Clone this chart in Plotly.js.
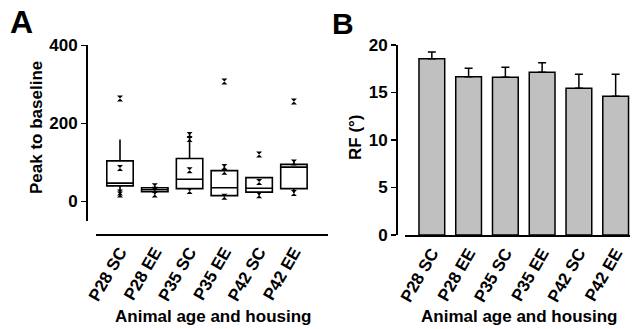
<!DOCTYPE html>
<html>
<head>
<meta charset="utf-8">
<script src="https://cdn.plot.ly/plotly-3.0.1.min.js"></script>
<style>html,body{margin:0;padding:0;background:#fff;}#chart{width:633px;height:329px;}</style>
</head>
<body>
<div id="chart"></div>
<script>
// ---- Data ----
const categories = ['P28 SC', 'P28 EE', 'P35 SC', 'P35 EE', 'P42 SC', 'P42 EE'];

// Panel A: box plot statistics (Peak to baseline)
const boxQ1 = [40, 25, 33, 15, 24, 33];
const boxMedian = [47, 30, 57, 35, 34, 88];
const boxQ3 = [104, 35, 110, 79, 61, 95];
const boxLower = [20, 18, 28, 12, 15, 22];
const boxUpper = [159, 40, 173, 91, 61, 104];

// Panel A: individual points drawn over the boxes
const pointGroups = ['P28 SC', 'P28 SC', 'P28 SC', 'P28 SC',
                     'P28 EE', 'P28 EE', 'P28 EE',
                     'P35 SC', 'P35 SC', 'P35 SC', 'P35 SC',
                     'P35 EE', 'P35 EE', 'P35 EE', 'P35 EE',
                     'P42 SC', 'P42 SC', 'P42 SC',
                     'P42 EE', 'P42 EE', 'P42 EE'];
const pointValues = [264, 86, 23, 18,
                     39, 30, 18,
                     170, 160, 80, 27,
                     307, 88, 76, 12,
                     120, 50, 16,
                     256, 100, 22];

// Panel B: bar chart (RF in degrees), mean and upper error
const rfMean = [18.56, 16.67, 16.6, 17.12, 15.44, 14.6];
const rfErr = [0.7, 0.88, 1.05, 1.02, 1.47, 2.31];

// ---- Layout helpers (pixel -> paper) ----
const W = 633, H = 329;
const px = v => v / W;
const py = v => 1 - v / H;

const fontFam = 'Liberation Sans, Arial, Helvetica, sans-serif';
const boldFont = (size) => ({family: fontFam, size: size, color: '#000', weight: 'bold'});

const traces = [
  {
    type: 'box',
    x: categories,
    q1: boxQ1,
    median: boxMedian,
    q3: boxQ3,
    lowerfence: boxLower,
    upperfence: boxUpper,
    fillcolor: 'rgba(255,255,255,0)',
    line: {color: '#000', width: 1.6},
    width: 0.76,
    whiskerwidth: 0,
    boxpoints: false,
    hoverinfo: 'skip',
    xaxis: 'x', yaxis: 'y'
  },
  {
    type: 'scatter',
    mode: 'markers',
    x: pointGroups,
    y: pointValues,
    marker: {symbol: 'hourglass', size: 6, color: '#000'},
    xaxis: 'x', yaxis: 'y'
  },
  {
    type: 'bar',
    x: categories,
    y: rfMean,
    width: 0.7,
    marker: {color: '#c0c0c0', line: {color: '#000', width: 1.5}},
    error_y: {
      type: 'data', symmetric: false,
      array: rfErr, arrayminus: rfErr.map(() => 0),
      color: '#000', thickness: 1.5, width: 4
    },
    xaxis: 'x2', yaxis: 'y2'
  }
];

const axisCommon = {
  showgrid: false, zeroline: false, showline: true,
  linecolor: '#000', linewidth: 1.5,
  tickfont: boldFont(17), automargin: false, fixedrange: true
};

const layout = {
  width: W, height: H,
  margin: {l: 0, r: 0, t: 0, b: 0},
  paper_bgcolor: '#fff', plot_bgcolor: 'rgba(0,0,0,0)',
  showlegend: false,
  font: boldFont(17),
  xaxis: Object.assign({}, axisCommon, {
    type: 'category', domain: [px(96), px(328)],
    anchor: 'free', position: py(234),
    range: [-0.69, 5.98], ticks: '', tickangle: -60
  }),
  yaxis: Object.assign({}, axisCommon, {
    domain: [py(221), py(45.3)],
    anchor: 'free', position: px(86),
    range: [-50, 400], tickvals: [0, 200, 400],
    ticks: 'outside', ticklen: 5, tickwidth: 1.5, tickcolor: '#000'
  }),
  xaxis2: Object.assign({}, axisCommon, {
    type: 'category', domain: [px(405), px(630)],
    anchor: 'free', position: py(235),
    range: [-0.73, 5.39], ticks: '', tickangle: -60
  }),
  yaxis2: Object.assign({}, axisCommon, {
    domain: [py(235), py(45)],
    anchor: 'free', position: px(396),
    range: [0, 20], tickvals: [0, 5, 10, 15, 20],
    ticks: 'outside', ticklen: 5, tickwidth: 1.5, tickcolor: '#000'
  }),
  annotations: [
    {text: 'A', xref: 'paper', yref: 'paper', x: px(21.5), y: py(22), xanchor: 'center', yanchor: 'middle', showarrow: false, font: boldFont(32)},
    {text: 'B', xref: 'paper', yref: 'paper', x: px(343), y: py(23), xanchor: 'center', yanchor: 'middle', showarrow: false, font: boldFont(30)},
    {text: 'Peak to baseline', xref: 'paper', yref: 'paper', x: px(36), y: py(128), xanchor: 'center', yanchor: 'middle', textangle: -90, showarrow: false, font: boldFont(17)},
    {text: 'RF (°)', xref: 'paper', yref: 'paper', x: px(356), y: py(137), xanchor: 'center', yanchor: 'middle', textangle: -90, showarrow: false, font: boldFont(17)},
    {text: 'Animal age and housing', xref: 'paper', yref: 'paper', x: px(213), y: py(316), xanchor: 'center', yanchor: 'middle', showarrow: false, font: boldFont(17)},
    {text: 'Animal age and housing', xref: 'paper', yref: 'paper', x: px(519), y: py(316), xanchor: 'center', yanchor: 'middle', showarrow: false, font: boldFont(17)}
  ]
};

Plotly.newPlot('chart', traces, layout, {displayModeBar: false, staticPlot: true});
</script>
</body>
</html>
